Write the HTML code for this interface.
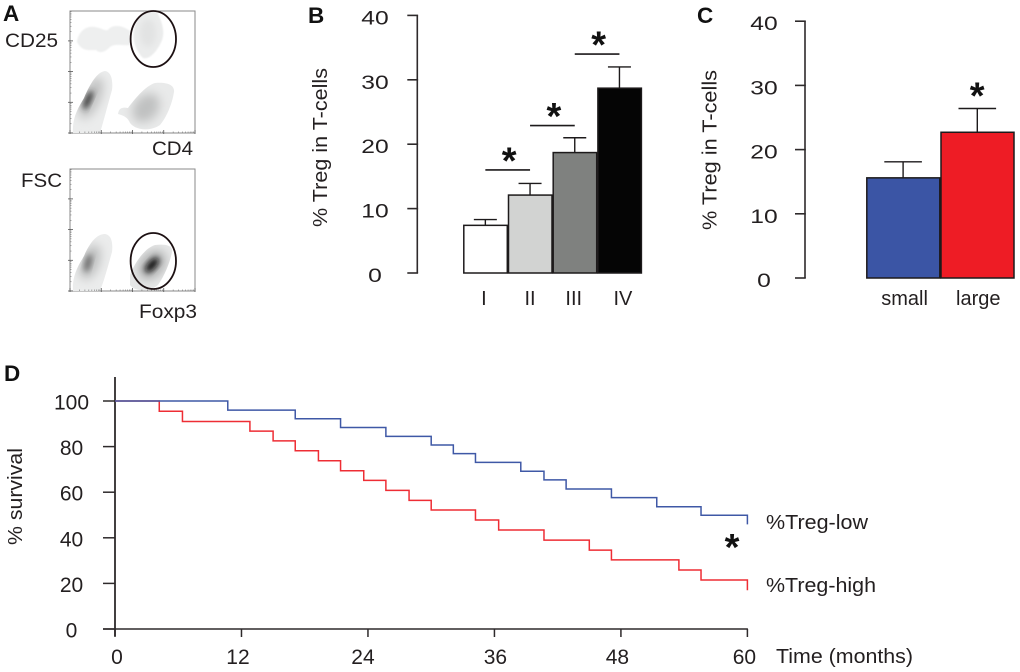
<!DOCTYPE html>
<html lang="en">
<head>
<meta charset="utf-8">
<title>Treg figure</title>
<style>
html,body{margin:0;padding:0;background:#fff;}
svg{display:block;}
text{font-family:"Liberation Sans",sans-serif;fill:#231f20;}
.panel{font-weight:bold;font-size:22.5px;fill:#111;}
.star{font-weight:bold;font-size:38px;fill:#111;text-anchor:middle;}
</style>
</head>
<body>
<svg id="fig" width="1020" height="672" viewBox="0 0 1020 672" xmlns="http://www.w3.org/2000/svg">
  <defs>
    <filter id="b3" x="-50%" y="-50%" width="200%" height="200%"><feGaussianBlur stdDeviation="3"/></filter>
    <filter id="b5" x="-60%" y="-60%" width="220%" height="220%"><feGaussianBlur stdDeviation="5"/></filter>
    <filter id="b1" x="-10%" y="-10%" width="120%" height="120%"><feGaussianBlur stdDeviation="0.7"/></filter>
    <clipPath id="clip-tl"><path d="M73 133C72 118 78 108 84 98C90 84 97 72 105 71C112 72 113 82 112 90C108 104 105 116 100 133Z"/></clipPath>
    <clipPath id="clip-tr"><path d="M128 108C134 100 145 86 155 83C165 82 175 84 174 92C172 105 166 118 160 125C150 132 135 130 130 123C128 118 125 116 118 114C119 108 122 107 128 108Z"/></clipPath>
    <clipPath id="clip-bl"><path d="M73 291C72 276 78 266 84 256C90 242 97 234 105 234C112 235 113 244 112 252C108 266 105 278 100 291Z"/></clipPath>
    <clipPath id="clip-br"><path d="M130 275C135 262 145 248 155 245C165 244 173 245 172 252C170 262 165 275 158 285C150 292 135 292 130 285Z"/></clipPath>
  </defs>

  <g>
    <text class="panel" x="3" y="21">A</text>
    <rect x="70" y="11" width="125" height="122" fill="#fff" stroke="#8a8a8a" stroke-width="1"/>
    <rect x="70" y="169" width="125" height="122" fill="#fff" stroke="#8a8a8a" stroke-width="1"/>

    <path filter="url(#b1)" fill="#eeefef" d="M77 42C78 33 85 25 95 27C101 28 105 31 108 30C111 25 121 24 130 31L130 45C122 46 115 43 110 47C105 52 100 54 96 50C90 50 82 52 77 42Z"/>
    <path filter="url(#b1)" fill="#ebecec" d="M140 16C146 10 155 9 158 14C162 22 165 32 162 40C158 50 150 60 143 58C137 52 132 42 134 30C135 24 136 20 140 16Z"/>
    <ellipse cx="148" cy="33" rx="8" ry="14" fill="#e2e3e3" filter="url(#b3)"/>

    <g clip-path="url(#clip-tl)">
      <rect x="70" y="70" width="50" height="64" fill="#ebecec"/>
      <ellipse cx="91" cy="98" rx="9" ry="22" fill="#bfc0c0" transform="rotate(24 91 98)" filter="url(#b5)"/>
      <ellipse cx="88" cy="100" rx="3" ry="10" fill="#333" transform="rotate(24 88 100)" filter="url(#b3)"/>
    </g>
    <g clip-path="url(#clip-tr)">
      <rect x="116" y="80" width="62" height="55" fill="#e9eaea"/>
      <ellipse cx="146" cy="108" rx="12" ry="16" fill="#c0c1c1" transform="rotate(40 146 108)" filter="url(#b5)"/>
    </g>
    <g clip-path="url(#clip-bl)">
      <rect x="70" y="232" width="50" height="60" fill="#ebecec"/>
      <ellipse cx="90" cy="262" rx="9" ry="18" fill="#bcbdbd" transform="rotate(20 90 262)" filter="url(#b5)"/>
      <ellipse cx="88" cy="263" rx="3" ry="9" fill="#666" transform="rotate(15 88 263)" filter="url(#b3)"/>
    </g>
    <g clip-path="url(#clip-br)">
      <rect x="128" y="243" width="48" height="50" fill="#e6e7e7"/>
      <ellipse cx="152" cy="265" rx="11" ry="16" fill="#a8a9a9" transform="rotate(40 152 265)" filter="url(#b5)"/>
      <ellipse cx="152" cy="265" rx="4" ry="9" fill="#111" transform="rotate(42 152 265)" filter="url(#b3)"/>
    </g>

    <g id="flow-ticks"></g>

    <ellipse cx="153.3" cy="39" rx="22.7" ry="28" fill="none" stroke="#1c1012" stroke-width="1.8"/>
    <ellipse cx="153.3" cy="261" rx="22.7" ry="28" fill="none" stroke="#1c1012" stroke-width="1.8"/>

    <text x="5" y="47" font-size="19" textLength="53" lengthAdjust="spacingAndGlyphs">CD25</text>
    <text x="152" y="155" font-size="19" textLength="41" lengthAdjust="spacingAndGlyphs">CD4</text>
    <text x="21" y="187" font-size="19" textLength="41" lengthAdjust="spacingAndGlyphs">FSC</text>
    <text x="139" y="318" font-size="19" textLength="58" lengthAdjust="spacingAndGlyphs">Foxp3</text>
  </g>

  <g id="panel-b">
    <text class="panel" x="308" y="23">B</text>
    <text transform="translate(327 227) rotate(-90)" font-size="20" textLength="159" lengthAdjust="spacingAndGlyphs">% Treg in T-cells</text>
  </g>

  <g id="panel-c">
    <text class="panel" x="697" y="23">C</text>
    <text transform="translate(716.5 230) rotate(-90)" font-size="20" textLength="160" lengthAdjust="spacingAndGlyphs">% Treg in T-cells</text>
  </g>

  <g id="panel-d">
    <text class="panel" x="4" y="381">D</text>
    <text transform="translate(22 545) rotate(-90)" font-size="20" textLength="97" lengthAdjust="spacingAndGlyphs">% survival</text>
    <text x="776" y="663" font-size="20" textLength="137" lengthAdjust="spacingAndGlyphs">Time (months)</text>
    <text x="766" y="529" font-size="20" textLength="102" lengthAdjust="spacingAndGlyphs">%Treg-low</text>
    <text x="766" y="592" font-size="20" textLength="110" lengthAdjust="spacingAndGlyphs">%Treg-high</text>
  </g>

  <script>
    /* Panel B data */
    var stageCategories = ['I', 'II', 'III', 'IV'];
    var stageMeans = [7.4, 12.1, 18.7, 28.7];
    var stageErrors = [0.9, 1.8, 2.3, 3.3];
    var stageBracketLevels = [16, 22.9, 34];
    var barTicks = [0, 10, 20, 30, 40];

    /* Panel C data */
    var sizeCategories = ['small', 'large'];
    var sizeMeans = [15.6, 22.7];
    var sizeErrors = [2.5, 3.7];
    var sizeStarLevel = 29.5;

    /* Panel D data */
    var survivalTicks = [0, 20, 40, 60, 80, 100];
    var monthTicks = [0, 12, 24, 36, 48, 60];
    var lowMonths = [10.7, 17.1, 21.4, 25.7, 30, 32.1, 34.2, 38.5, 40.7, 42.8, 47.1, 51.4, 55.6, 60];
    var lowSurvival = [96, 92.2, 88.4, 84.5, 80.7, 76.9, 73.1, 69.2, 65.4, 61.4, 57.6, 53.6, 49.9, 45.9];
    var highMonths = [4.2, 6.4, 12.8, 15, 17.1, 19.3, 21.4, 23.6, 25.7, 27.9, 30, 34.2, 36.4, 40.7, 45, 47.1, 53.5, 55.6, 60];
    var highSurvival = [95.5, 91, 86.8, 82.5, 78.2, 73.8, 69.4, 65.2, 60.8, 56.4, 52.2, 47.8, 43.4, 39, 34.6, 30.3, 25.9, 21.5, 17];

    var NS = 'http://www.w3.org/2000/svg';
    function mk(tag, attrs, parent, txt) {
      var el = document.createElementNS(NS, tag);
      for (var k in attrs) el.setAttribute(k, attrs[k]);
      if (txt !== undefined) el.textContent = txt;
      parent.appendChild(el);
      return el;
    }
    var AXIS = '#2e2a2b';

    function drawBarChart(cfg) {
      var host = document.getElementById(cfg.host);
      var y = function (v) { return cfg.y0 - v * cfg.pxPerUnit; };
      var band = function (i) { return cfg.barStart + i * cfg.barWidth; };

      var axis = mk('line', { x1: cfg.axisX, x2: cfg.axisX, y1: y(40), y2: y(0), stroke: AXIS, 'stroke-width': 1.6 }, host);
      
      

      barTicks.forEach(function (t) {
        var tick = mk('line', { x1: cfg.axisX - 10, x2: cfg.axisX + 0.8, y1: y(t), y2: y(t), stroke: AXIS, 'stroke-width': 1.6 }, host);
        
        
        var s = String(t);
        var lab = mk('text', { x: cfg.labelX, y: y(t) + 9, 'font-size': 19, 'text-anchor': 'middle', textLength: s.length * 13.7, lengthAdjust: 'spacingAndGlyphs' }, host, s);
        
        
      });

      cfg.categories.forEach(function (c, i) {
        var cx = band(i) + cfg.barWidth / 2;
        var errTop = y(cfg.means[i] + cfg.errors[i]);
        var stem = mk('line', { x1: cx, x2: cx, y1: y(cfg.means[i]), y2: errTop, stroke: '#1d1a1b', 'stroke-width': 1.4 }, host);
        
        
        var cap = mk('line', { x1: cx - cfg.capHalf, x2: cx + cfg.capHalf, y1: errTop, y2: errTop, stroke: '#1d1a1b', 'stroke-width': 1.4 }, host);
        
        
        var bar = mk('rect', { x: band(i) + 0.8, y: y(cfg.means[i]), width: cfg.barWidth - 1.2, height: cfg.y0 - y(cfg.means[i]), fill: cfg.colors[i], stroke: '#1d1a1b', 'stroke-width': 1.5 }, host);
        
        
        var lab = mk('text', { x: cx + cfg.catNudge[i], y: 305, 'font-size': cfg.catSize, 'text-anchor': 'middle' }, host, c);
        
        
      });
      return { y: y, band: band };
    }

    var b = drawBarChart({
      host: 'panel-b', prefix: 'panel-b', categories: stageCategories, means: stageMeans, errors: stageErrors,
      colors: ['#ffffff', '#d2d3d2', '#7f817f', '#050505'],
      y0: 273, pxPerUnit: 6.44, axisX: 417.3, labelX: 375, barStart: 463, barWidth: 44.7, capHalf: 11.5,
      catSize: 20, catNudge: [-1.5, 0, -1, 3.5]
    });
    var bHost = document.getElementById('panel-b');
    stageBracketLevels.forEach(function (lvl, i) {
      var x1 = b.band(i) + 22.35, x2 = b.band(i + 1) + 22.35;
      var line = mk('line', { x1: x1, x2: x2, y1: b.y(lvl), y2: b.y(lvl), stroke: '#1d1a1b', 'stroke-width': 1.6 }, bHost);
      
      
      var star = mk('text', { 'class': 'star', x: (x1 + x2) / 2 + 1.5, y: b.y(lvl) + 3.5 }, bHost, '*');
      
      
    });

    var c = drawBarChart({
      host: 'panel-c', prefix: 'panel-c', categories: sizeCategories, means: sizeMeans, errors: sizeErrors,
      colors: ['#3b55a5', '#ee1c25'],
      y0: 278, pxPerUnit: 6.42, axisX: 805, labelX: 764, barStart: 866, barWidth: 74.2, capHalf: 18.8,
      catSize: 20, catNudge: [1.5, 1]
    });
    var cStar = mk('text', { 'class': 'star', x: c.band(1) + 37, y: c.y(sizeStarLevel) + 20 }, document.getElementById('panel-c'), '*');
    
    

    /* Panel D */
    var dHost = document.getElementById('panel-d');
    var sx = function (m) { return 115 + m * 10.54; };
    var sy = function (s) { return 629 - s * 2.28; };
    var monthLabelNudge = [2, -3.5, -5, 1, -3.5, -3];

    var dyAxis = mk('line', { x1: sx(0), x2: sx(0), y1: 377, y2: 636, stroke: AXIS, 'stroke-width': 1.8 }, dHost);
    
    
    var dxAxis = mk('line', { x1: 103, x2: sx(60) + 0.5, y1: sy(0), y2: sy(0), stroke: AXIS, 'stroke-width': 1.5 }, dHost);
    
    

    survivalTicks.forEach(function (t) {
      var tick = mk('line', { x1: 103, x2: sx(0), y1: sy(t), y2: sy(t), stroke: AXIS, 'stroke-width': 1.5 }, dHost);
      
      
      var lab = mk('text', { x: 71.5, y: sy(t) + 8.5, 'font-size': 21, 'text-anchor': 'middle' }, dHost, String(t));
      
      
    });
    monthTicks.forEach(function (t, i) {
      var tick = mk('line', { x1: sx(t), x2: sx(t), y1: sy(0), y2: 637, stroke: AXIS, 'stroke-width': 1.5 }, dHost);
      
      
      var lab = mk('text', { x: sx(t) + monthLabelNudge[i], y: 664, 'font-size': 21, 'text-anchor': 'middle' }, dHost, String(t));
      
      
    });

    function stepPath(months, survival) {
      var d = 'M' + sx(0) + ' ' + sy(100);
      months.forEach(function (m, i) {
        d += 'H' + sx(m) + 'V' + sy(survival[i]);
      });
      return d;
    }
    var highLine = mk('path', { d: stepPath(highMonths, highSurvival), fill: 'none', stroke: '#ee2d34', 'stroke-width': 1.5 }, dHost);
    
    
    var lowLine = mk('path', { d: stepPath(lowMonths, lowSurvival), fill: 'none', stroke: '#3f58a6', 'stroke-width': 1.5 }, dHost);
    
    

    var dStar = mk('text', { 'class': 'star', x: 732, y: 560 }, dHost, '*');
    
    

    /* Panel A log ticks */
    var decadeFractions = [0.301, 0.477, 0.602, 0.699, 0.778, 0.845, 0.903, 0.954];
    var flowHost = document.getElementById('flow-ticks');
    function flowTicks(bottom) {
      for (var d = 0; d < 4; d++) {
        var xs = 70 + d * 31.25, ys = bottom - d * 30.7;
        var maj1 = mk('line', { x1: xs, x2: xs, y1: bottom - 3, y2: bottom + 1, stroke: '#555', 'stroke-width': 0.8 }, flowHost);
        
        
        var maj2 = mk('line', { x1: 68, x2: 73, y1: ys, y2: ys, stroke: '#555', 'stroke-width': 0.8 }, flowHost);
        
        
        decadeFractions.forEach(function (f) {
          var mx = mk('line', { x1: xs + f * 31.25, x2: xs + f * 31.25, y1: bottom - 1.5, y2: bottom, stroke: '#777', 'stroke-width': 0.6 }, flowHost);
          
          
          var my = mk('line', { x1: 70, x2: 71.5, y1: ys - f * 30.7, y2: ys - f * 30.7, stroke: '#777', 'stroke-width': 0.6 }, flowHost);
          
          
        });
      }
      var last = mk('line', { x1: 195, x2: 195, y1: bottom - 3, y2: bottom + 1, stroke: '#555', 'stroke-width': 0.8 }, flowHost);
      
      
    }
    flowTicks(133);
    flowTicks(291);
  </script>
</svg>
</body>
</html>
